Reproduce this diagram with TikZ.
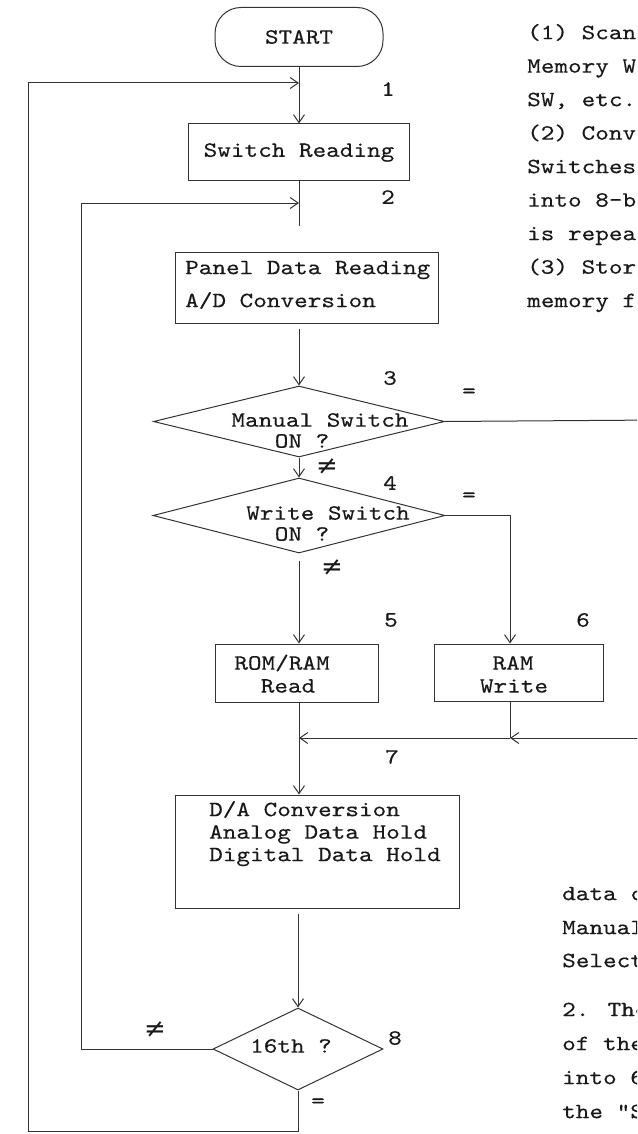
\documentclass[tikz,border=0pt]{standalone}
\usepackage{fontspec}
\newfontfamily\tw[FakeStretch=1.19,FakeBold=0.3]{lmmono10-regular.otf}
\newfontfamily\djv{DejaVu Sans}
\usetikzlibrary{shapes.geometric,arrows.meta}
\begin{document}
\begin{tikzpicture}[x=1pt,y=-1pt,
  ln/.style={line width=1pt,draw=black!80},
  arr/.style={ln,-{Straight Barb[length=8pt,width=11pt]}},
  box/.style={ln,rectangle,inner sep=0pt},
  dia/.style={ln,diamond,inner sep=0pt},
  tx/.style={font=\tw\fontsize{21.8}{22.5}\selectfont,inner sep=0pt,text=black!90},
  ne/.style={font=\djv\fontsize{26}{26}\selectfont,inner sep=0pt,text=black!90}]
\useasboundingbox (0,0) rectangle (637,1134);
\clip (0,0) rectangle (637,1134);
% ---- nodes ----
\node[box,rounded corners=26pt,minimum width=168pt,minimum height=59pt,tx] (start) at (299,37) {START};
\node[box,minimum width=221pt,minimum height=57pt,tx] (sw) at (299,152.5) {Switch Reading};
\node[box,minimum width=263pt,minimum height=71pt] (panel) at (306.5,287.5) {};
\node[tx,anchor=mid west] (pt1) at (185,272) {Panel Data Reading};
\node[tx,anchor=mid west] (pt2) at (185,305) {A/D Conversion};
\node[dia,minimum width=291pt,minimum height=71pt] (d1) at (299,421.5) {};
\node[tx] (d1a) at (320,420) {Manual Switch};
\node[tx] (d1b) at (302,441) {ON ?};
\node[dia,minimum width=292pt,minimum height=75pt] (d2) at (299,515.5) {};
\node[tx] (d2a) at (328,513) {Write Switch};
\node[tx] (d2b) at (302,534) {ON ?};
\node[box,minimum width=163pt,minimum height=58pt] (rr) at (296.5,673) {};
\node[tx] (rra) at (282,663) {ROM/RAM};
\node[tx] (rrb) at (288,686) {Read};
\node[box,minimum width=169pt,minimum height=57pt] (rw) at (518.5,672.5) {};
\node[tx] (rwa) at (513,663) {RAM};
\node[tx] (rwb) at (514,686) {Write};
\node[box,minimum width=284pt,minimum height=113pt] (dac) at (317,851.5) {};
\node[tx,anchor=mid west] (da1) at (209,814) {D/A Conversion};
\node[tx,anchor=mid west] (da2) at (209,836.5) {Analog Data Hold};
\node[tx,anchor=mid west] (da3) at (209,859) {Digital Data Hold};
\node[dia,minimum width=170pt,minimum height=82pt] (d3) at (298,1049) {};
\node[tx] (d3a) at (291,1046) {16th ?};
% ---- coordinates ----
\coordinate (mx) at (299,0);
\coordinate (j1) at (299,83);
\coordinate (j2) at (299,203);
\coordinate (c6) at (510,515.5);
\coordinate (e1) at (660,420);
\coordinate (e2) at (660,738);
\coordinate (j7a) at (299,738);
\coordinate (j7b) at (510,738);
\coordinate (c8) at (298,1131);
\coordinate (c9) at (28,1131);
\coordinate (c10) at (28,83);
\coordinate (c11) at (81,1049);
\coordinate (c12) at (81,203);
% ---- connectors ----
\draw[arr] (start) -- (sw);
\draw[ln,shorten >=26pt] (sw) -- (sw |- panel.north);
\draw[arr,shorten <=5pt] (d1.north |- panel.south) -- (d1.north);
\draw[arr] (d1) -- (d2);
\draw[ln] (d1.east) -- (e1);
\draw[arr] (d2.east) -- (c6) -- (c6 |- rw.north);
\draw[arr,shorten <=7pt] (d2.south) -- (d2.south |- rr.north);
\draw[arr] (rr.south -| mx) -- (dac.north -| mx);
\draw[ln] (rw.south -| c6) -- (j7b);
\draw[arr] (e2) -- (j7b);
\draw[arr] (j7b) -- (j7a);
\draw[arr,shorten <=5pt] (dac.south -| d3.north) -- (d3.north);
\draw[arr] (d3.south) -- (c8) -- (c9) -- (c10) -- (j1);
\draw[arr] (d3.west) -- (c11) -- (c12) -- (j2);
% ---- labels ----
\node[tx] (n1) at (388,89) {1};
\node[tx] (n2) at (388,197) {2};
\node[tx] (n3) at (390,378) {3};
\node[tx] (n4) at (390,483) {4};
\node[tx] (n5) at (391,620) {5};
\node[tx] (n6) at (583,620) {6};
\node[tx] (n7) at (392,757) {7};
\node[tx] (n8) at (395,1038) {8};
\node[tx] (eq1) at (469,393) {=};
\node[tx] (eq2) at (469,497) {=};
\node[tx] (eq3) at (318,1103) {=};
\node[ne] (ne1) at (327,467) {≠};
\node[ne] (ne2) at (332,568) {≠};
\node[ne] (ne3) at (155,1030) {≠};
% ---- side text ----
\node[tx,anchor=mid west] (r1) at (527,37) {(1) Scan};
\node[tx,anchor=mid west] (r2) at (527,70.5) {Memory W};
\node[tx,anchor=mid west] (r3) at (527,104) {SW, etc.};
\node[tx,anchor=mid west] (r4) at (527,137.5) {(2) Conv};
\node[tx,anchor=mid west] (r5) at (527,171) {Switches};
\node[tx,anchor=mid west] (r6) at (527,204.5) {into 8-b};
\node[tx,anchor=mid west] (r7) at (527,238) {is repea};
\node[tx,anchor=mid west] (r8) at (527,271.5) {(3) Stor};
\node[tx,anchor=mid west] (r9) at (527,305) {memory f};
\node[tx,anchor=mid west] (b1) at (562,898) {data c};
\node[tx,anchor=mid west] (b2) at (562,932) {Manual};
\node[tx,anchor=mid west] (b3) at (562,965) {Select};
\node[tx,anchor=mid west] (b4) at (562,1014) {2. The};
\node[tx,anchor=mid west] (b5) at (562,1048) {of the};
\node[tx,anchor=mid west] (b6) at (562,1082) {into 6};
\node[tx,anchor=mid west] (b7) at (562,1116) {the "S};
\end{tikzpicture}
\end{document}
